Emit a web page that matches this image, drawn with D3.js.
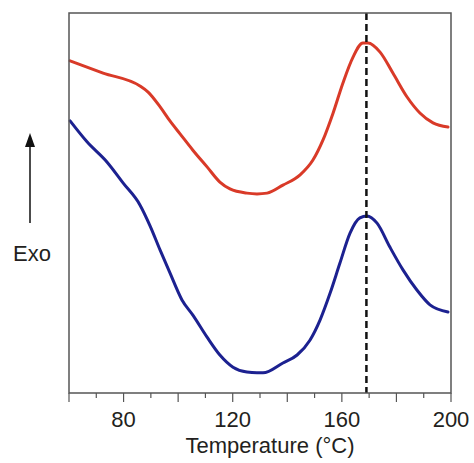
<!DOCTYPE html>
<html>
<head>
<meta charset="utf-8">
<script src="https://cdn.jsdelivr.net/npm/d3@7"></script>
<style>
  html, body { margin: 0; padding: 0; background: #fff; }
  svg { display: block; }
</style>
</head>
<body>
<svg id="chart" width="474" height="463"></svg>
<script>
// Temperature (°C) and relative heat flow (arbitrary units, exo up)
const redT = [60.4, 72.5, 86.0, 89.0, 93.4, 97.0, 100.7, 105.4, 110.6, 115.3, 119.0, 125.2, 128.9, 132.6, 138.4, 144.7, 149.4, 153.1, 156.8, 160.4, 164.1, 167.7, 169.6, 174.0, 178.7, 183.9, 188.6, 193.4, 198.9];
const redY = [87.4, 84.2, 80.8, 79.2, 75.3, 71.6, 68.2, 63.9, 59.5, 55.5, 53.7, 52.6, 52.4, 52.6, 54.7, 57.4, 61.3, 66.6, 73.7, 81.6, 88.4, 92.1, 92.1, 89.7, 84.2, 77.9, 73.7, 71.1, 70.0];
const blueT = [60.4, 66.6, 73.9, 79.8, 86.0, 89.7, 93.4, 97.0, 101.4, 105.4, 110.6, 115.3, 120.1, 125.2, 128.9, 131.1, 138.4, 143.6, 148.3, 152.0, 155.7, 159.3, 163.0, 166.6, 169.2, 172.9, 177.6, 182.4, 187.5, 192.3, 198.9];
const blueY = [71.6, 66.1, 60.8, 55.3, 49.5, 44.0, 37.6, 31.6, 24.5, 20.5, 14.7, 10.0, 6.8, 5.5, 5.3, 5.3, 7.9, 10.0, 13.9, 19.2, 26.3, 34.2, 42.1, 46.1, 46.6, 44.7, 38.4, 32.4, 27.1, 23.2, 21.3];
const peakT = 169;
const xTickLabels = [80, 120, 160, 200];
const xMajorTicks = [60, 80, 100, 120, 140, 160, 180, 200];
const xMinorTicks = [70, 90, 110, 130, 150, 170, 190];

const svg = d3.select("#chart");
const L = 69, R = 451, T = 13, B = 393;
const x = d3.scaleLinear().domain([60, 200]).range([L, R]);
const y = d3.scaleLinear().domain([0, 100]).range([B, T]);

const font = "Liberation Sans, Arial, Helvetica, sans-serif";
const textColor = "#231f20";
const frameColor = "#555";

// curves
const line = d3.line().x(d => x(d[0])).y(d => y(d[1])).curve(d3.curveMonotoneX);
svg.append("path").datum(redT.map((t, i) => [t, redY[i]]))
  .attr("d", line).attr("fill", "none").attr("stroke", "#d93a28").attr("stroke-width", 3)
  .attr("stroke-linejoin", "round").attr("stroke-linecap", "round");
svg.append("path").datum(blueT.map((t, i) => [t, blueY[i]]))
  .attr("d", line).attr("fill", "none").attr("stroke", "#1c2190").attr("stroke-width", 3)
  .attr("stroke-linejoin", "round").attr("stroke-linecap", "round");

// dashed peak line
svg.append("line")
  .attr("x1", x(peakT)).attr("x2", x(peakT)).attr("y1", T).attr("y2", B)
  .attr("stroke", "#111").attr("stroke-width", 2.5).attr("stroke-dasharray", "7,4");

// frame
svg.append("rect").attr("x", L).attr("y", T).attr("width", R - L).attr("height", B - T)
  .attr("fill", "none").attr("stroke", frameColor).attr("stroke-width", 1.5);

// ticks
const gx = svg.append("g").attr("transform", `translate(0,${B})`);
gx.selectAll(".maj").data(xMajorTicks).join("line")
  .attr("x1", d => x(d)).attr("x2", d => x(d)).attr("y1", 0).attr("y2", 9)
  .attr("stroke", frameColor).attr("stroke-width", 1.2);
gx.selectAll(".min").data(xMinorTicks).join("line")
  .attr("x1", d => x(d)).attr("x2", d => x(d)).attr("y1", 0).attr("y2", 5)
  .attr("stroke", frameColor).attr("stroke-width", 1.2);
gx.selectAll("text").data(xTickLabels).join("text")
  .attr("x", d => x(d)).attr("y", 34)
  .attr("text-anchor", "middle").attr("font-family", font).attr("font-size", 22)
  .attr("fill", textColor).text(d => d);

// axis title
svg.append("text").attr("x", 270).attr("y", 453)
  .attr("text-anchor", "middle").attr("font-family", font).attr("font-size", 22)
  .attr("fill", textColor).text("Temperature (°C)");

// Exo label and arrow
svg.append("text").attr("x", 13).attr("y", 261)
  .attr("font-family", font).attr("font-size", 22).attr("fill", textColor).text("Exo");
svg.append("line").attr("x1", 30).attr("x2", 30).attr("y1", 223).attr("y2", 142)
  .attr("stroke", "#111").attr("stroke-width", 1.5);
svg.append("path").attr("d", "M30,133 L25,147 L35,147 Z").attr("fill", "#111");
</script>
</body>
</html>
